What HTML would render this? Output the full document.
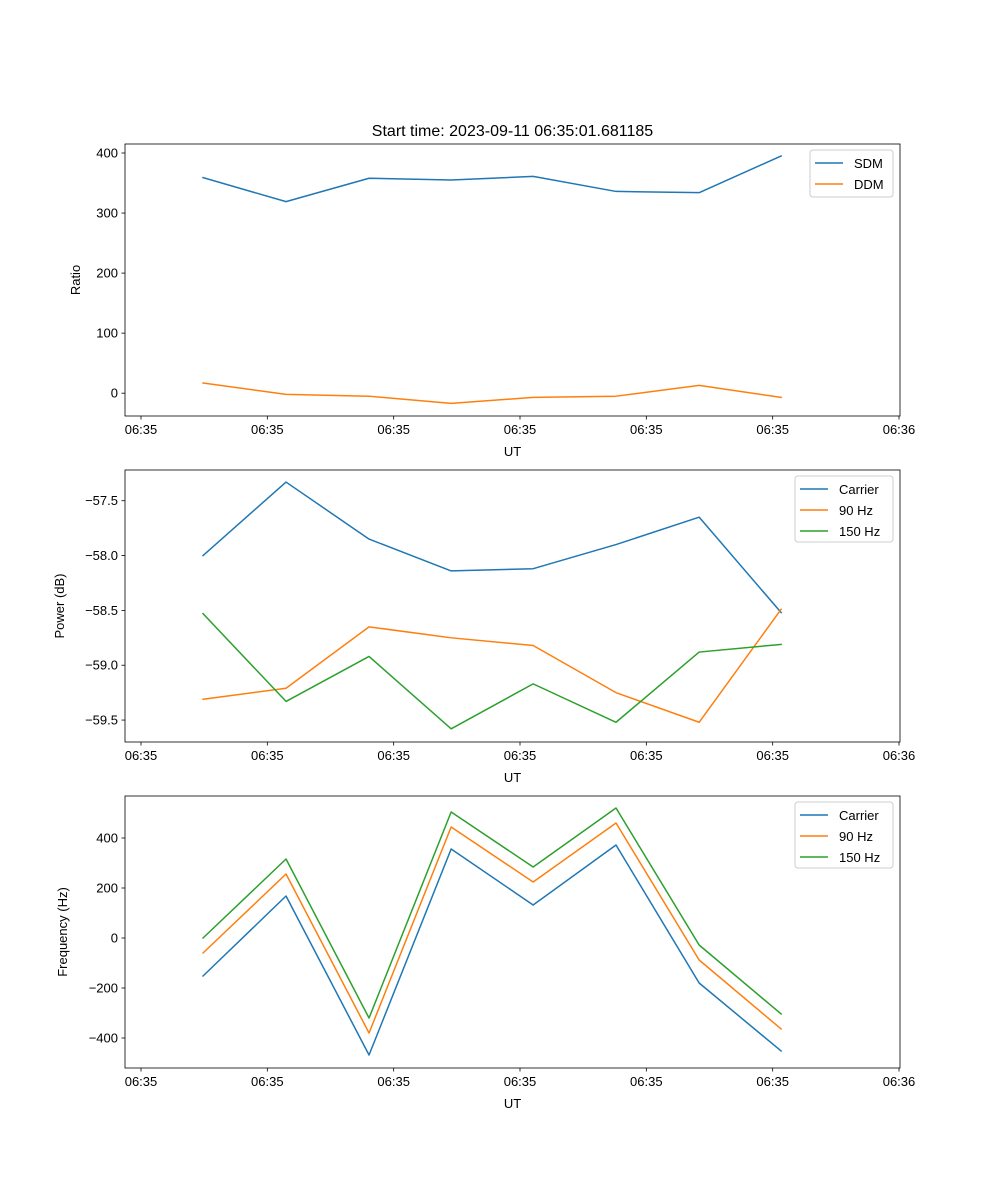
<!DOCTYPE html>
<html><head><meta charset="utf-8"><style>
html,body{margin:0;padding:0;background:#fff;}
svg{display:block;font-family:"Liberation Sans","DejaVu Sans",sans-serif;}
</style></head><body>
<svg id="fig" width="1000" height="1200" viewBox="0 0 1000 1200"></svg>
<script>
const timesSec = [4.91, 11.48, 18.05, 24.55, 31.04, 37.6, 44.18, 50.67];
const xTickValues = [0, 10, 20, 30, 40, 50, 60];
const xTickLabels = ["06:35","06:35","06:35","06:35","06:35","06:35","06:36"];
const sdmValues = [359, 319, 358, 355, 361, 336, 334, 395];
const ddmValues = [17, -2, -5, -17, -7, -5, 13, -7];
const powerCarrier = [-58.00, -57.33, -57.85, -58.14, -58.12, -57.90, -57.65, -58.52];
const power90 = [-59.31, -59.21, -58.65, -58.75, -58.82, -59.25, -59.52, -58.49];
const power150 = [-58.53, -59.33, -58.92, -59.58, -59.17, -59.52, -58.88, -58.81];
const freqCarrier = [-152, 168, -468, 356, 132, 372, -180, -452];
const freq90 = [-60, 256, -380, 444, 224, 460, -88, -364];
const freq150 = [0, 316, -320, 504, 284, 520, -28, -304];
const ratioTicks = [0, 100, 200, 300, 400];
const powerTicks = [-57.5, -58.0, -58.5, -59.0, -59.5];
const powerTickLabels = ["\u221257.5","\u221258.0","\u221258.5","\u221259.0","\u221259.5"];
const freqTicks = [400, 200, 0, -200, -400];
const freqTickLabels = ["400","200","0","\u2212200","\u2212400"];

const NS = "http://www.w3.org/2000/svg";
const svg = document.getElementById("fig");
const C = {blue:"#1f77b4", orange:"#ff7f0e", green:"#2ca02c"};
const L = 125, R = 900;
function el(tag, attrs, parent){const e=document.createElementNS(NS,tag);for(const k in attrs)e.setAttribute(k,attrs[k]);(parent||svg).appendChild(e);return e;}
const xScale = t => 141 + (t - 0) * (899 - 141) / 60;

function panel(name, top, bottom, yMin, yMax, yTicks, yLabels, yTitle, series, legend){
  const g = el("g", {});
  
  
  const y = v => bottom - (v - yMin) / (yMax - yMin) * (bottom - top);
  series.forEach(s => {
    const d = timesSec.map((t,i)=>(i?"L":"M")+xScale(t).toFixed(2)+","+y(s.vals[i]).toFixed(2)).join(" ");
    const p = el("path", {d:d, fill:"none", stroke:s.color, "stroke-width":1.5, "stroke-linejoin":"round", "stroke-linecap":"square"}, g);
    
    
  });
  const fr = el("rect", {x:L, y:top, width:R-L, height:bottom-top, fill:"none", stroke:"#000", "stroke-width":0.8}, g);
  
  
  xTickValues.forEach((t,i)=>{
    const x = xScale(t);
    el("line",{x1:x,x2:x,y1:bottom,y2:bottom+3.5,stroke:"#000","stroke-width":0.8},g);
    const tx = el("text",{x:x,y:bottom+18,"font-size":13,"text-anchor":"middle",fill:"#000"},g);
    tx.textContent = xTickLabels[i];
    
    
  });
  const xt = el("text",{x:(L+R)/2,y:bottom+40,"font-size":13,"text-anchor":"middle"},g);
  xt.textContent = "UT";
  
  
  yTicks.forEach((v,i)=>{
    const yy = y(v);
    el("line",{x1:L-3.5,x2:L,y1:yy,y2:yy,stroke:"#000","stroke-width":0.8},g);
    const ty = el("text",{x:L-7,y:yy+4.5,"font-size":13,"text-anchor":"end"},g);
    ty.textContent = yLabels[i];
    
    
  });
  const yt = el("text",{x:0,y:0,"font-size":13,"text-anchor":"middle",transform:`translate(${legend.titleX},${(top+bottom)/2}) rotate(-90)`},g);
  yt.textContent = yTitle;
  
  
  const lg = el("g",{},g);
  
  
  const h = 9 + series.length*19;
  el("rect",{x:legend.x,y:top+6,width:R-7-legend.x,height:h,rx:3,fill:"#fff","fill-opacity":0.8,stroke:"#ccc","stroke-width":1},lg);
  series.forEach((s,i)=>{
    const yy = top+6+14+i*21;
    el("line",{x1:legend.x+5,x2:legend.x+33,y1:yy-1,y2:yy-1,stroke:s.color,"stroke-width":1.5},lg);
    const t = el("text",{x:legend.x+44,y:yy+4,"font-size":13},lg);
    t.textContent = s.label;
    
    
  });
}

const title = el("text",{x:512.5,y:136,"font-size":16,"text-anchor":"middle"});
title.textContent = "Start time: 2023-09-11 06:35:01.681185";



panel("ratio",144,416,-38,415,ratioTicks,ratioTicks.map(String),"Ratio",
  [{key:"sdm",label:"SDM",color:C.blue,vals:sdmValues},{key:"ddm",label:"DDM",color:C.orange,vals:ddmValues}],
  {x:810,titleX:80});
panel("power",470,742,-59.70,-57.22,powerTicks,powerTickLabels,"Power (dB)",
  [{key:"carrier",label:"Carrier",color:C.blue,vals:powerCarrier},{key:"90hz",label:"90 Hz",color:C.orange,vals:power90},{key:"150hz",label:"150 Hz",color:C.green,vals:power150}],
  {x:795,titleX:64});
panel("frequency",796,1068,-520,568,freqTicks,freqTickLabels,"Frequency (Hz)",
  [{key:"carrier",label:"Carrier",color:C.blue,vals:freqCarrier},{key:"90hz",label:"90 Hz",color:C.orange,vals:freq90},{key:"150hz",label:"150 Hz",color:C.green,vals:freq150}],
  {x:795,titleX:67});
</script>
</body></html>
